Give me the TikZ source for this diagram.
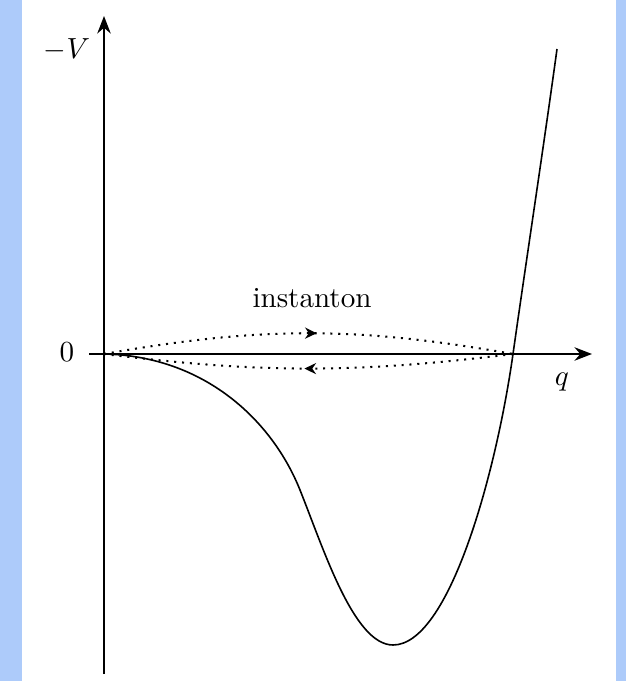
\documentclass[tikz,border=0pt]{standalone}
\usepackage{amsmath}
\usetikzlibrary{arrows.meta,decorations.markings}
\definecolor{pageblue}{RGB}{173,203,250}

\begin{document}
\begin{tikzpicture}[
    x=0.01208cm, y=0.01208cm,
    axis/.style={-{Stealth[length=6pt,width=4.6pt]}, line width=0.8pt},
    well/.style={line width=0.55pt},
    orbit/.style={line width=0.7pt, dotted, postaction={decorate},
    decoration={markings, mark=at position #1 with
    {\arrow{Stealth[length=4pt,width=3.8pt]}}}},
    lbl/.style={inner sep=0pt}
]
% page frame
\useasboundingbox (-104,-327) rectangle (522,354);
\fill[pageblue] (-104,-327) rectangle (522,354);
\fill[white] (-82,-327) rectangle (512,354);
% axes
\coordinate (O) at (0,0);
\coordinate (xfrom) at (-15,0);
\coordinate (xto) at (488,0);
\coordinate (yfrom) at (0,-320);
\coordinate (yto) at (0,338);
\coordinate (turn) at (409,0);
\draw[axis] (xfrom) -- (xto);
\draw[axis] (yfrom) -- (yto);
\node[lbl] (vlabel) at (-37,304) {$-V$};
\node[lbl] (zero) at (-37,2) {$0$};
\node[lbl] (qlabel) at (458,-28) {$q$};
% potential
\draw[well] (O) .. controls (100,-2) and (168,-66) .. (196,-136)
    .. controls (220,-196) and (250,-291) .. (289,-291)
    .. controls (345,-291) and (392,-120) .. (turn)
    .. controls (421,85) and (440,210) .. (453,305);
% instanton
\draw[orbit=0.52] (O) to[bend left=10] (turn);
\draw[orbit=0.51] (turn) to[bend left=7] (O);
\node[lbl] (inst) at (208,56) {instanton};
\end{tikzpicture}
\end{document}
